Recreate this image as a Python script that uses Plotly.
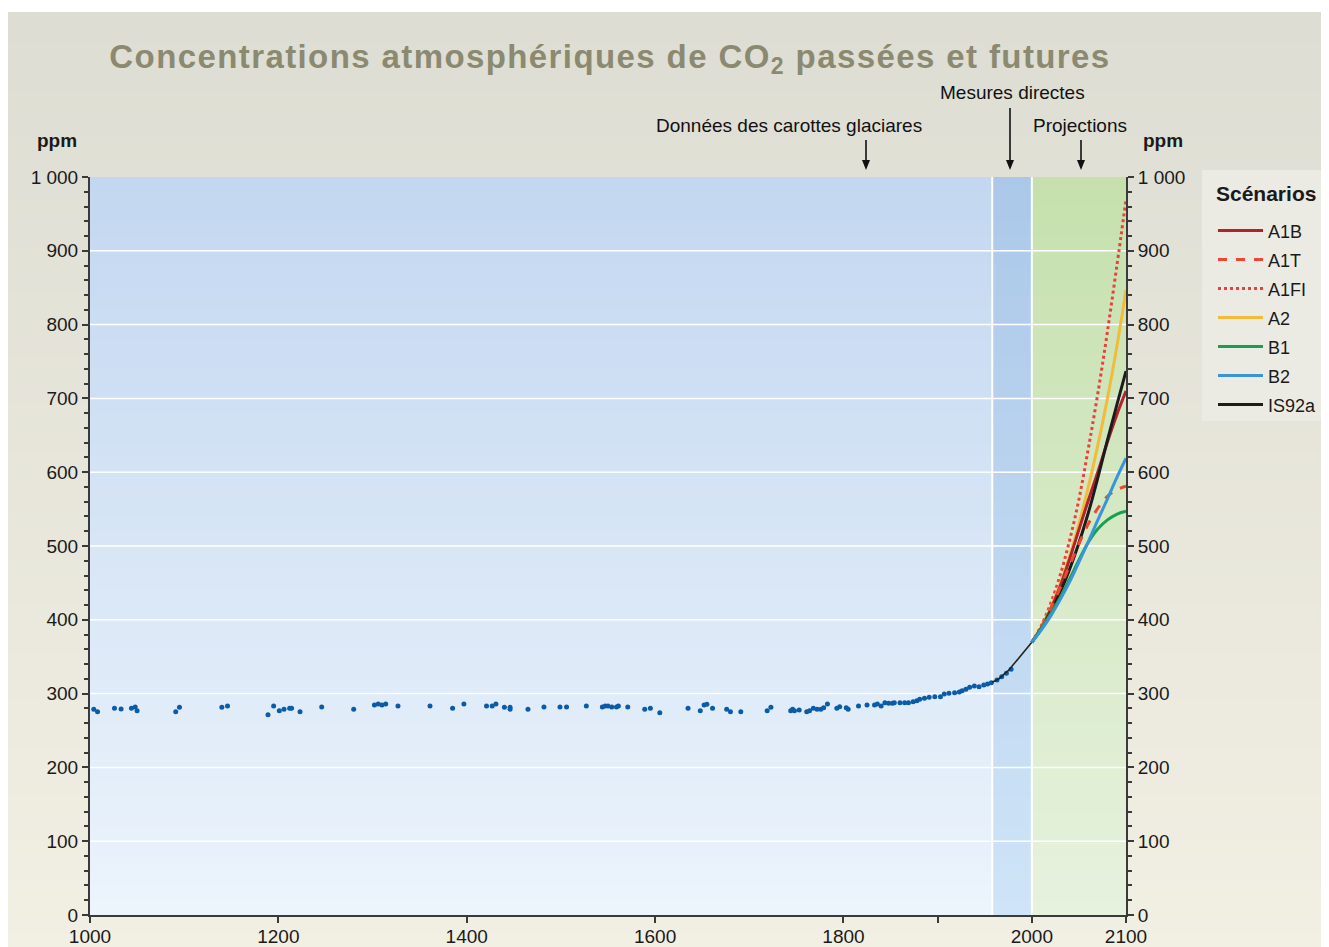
import plotly.graph_objects as go

# ---------------- data ----------------
ice_year = [1004, 1008, 1026, 1033, 1044, 1048, 1050, 1091, 1095, 1140, 1146, 1189, 1195, 1201,
            1206, 1212, 1214, 1223, 1246, 1280, 1302, 1306, 1310, 1314, 1327, 1361, 1385, 1397,
            1421, 1427, 1431, 1440, 1446, 1446, 1465, 1482, 1499, 1506, 1527, 1544, 1547, 1550,
            1554, 1559, 1561, 1571, 1589, 1595, 1605, 1635, 1648, 1652, 1655, 1661, 1676, 1680,
            1691, 1719, 1723, 1744, 1746, 1748, 1753, 1761, 1764, 1768, 1772, 1776, 1779, 1783,
            1793, 1796, 1803, 1805, 1816, 1825, 1833, 1836, 1840, 1844, 1848, 1852, 1854, 1860,
            1865, 1869, 1874, 1878, 1881, 1886, 1891, 1897, 1903, 1907, 1912, 1918, 1923, 1926,
            1930, 1934, 1939, 1944, 1949, 1953, 1957, 1963, 1968, 1973, 1978]
ice_ppm = [278.7, 275.5, 280.0, 279.1, 280.0, 281.8, 276.8, 275.5, 281.4, 281.4, 283.2, 271.4,
           283.2, 276.8, 278.7, 280.0, 280.0, 275.5, 281.8, 278.7, 284.6, 285.9, 284.6, 285.9,
           283.2, 283.2, 280.0, 285.9, 283.2, 283.2, 285.9, 281.4, 281.4, 278.7, 278.7, 281.8,
           281.8, 281.8, 283.2, 281.8, 283.2, 283.2, 281.8, 281.8, 283.2, 281.8, 278.7, 280.0,
           274.1, 280.0, 276.8, 284.6, 285.5, 280.0, 278.7, 275.5, 275.5, 276.8, 281.4, 276.8,
           278.7, 276.8, 277.8, 275.5, 276.8, 280.0, 278.7, 278.7, 280.9, 285.9, 280.0, 282.2,
           280.9, 278.7, 283.2, 284.6, 284.6, 285.9, 283.2, 287.7, 286.9, 286.9, 287.7, 287.7,
           287.7, 287.7, 289.0, 290.4, 292.3, 293.6, 295.0, 295.8, 295.8, 299.5, 300.4, 301.2,
           302.2, 303.9, 305.8, 308.5, 310.3, 309.3, 311.7, 313.0, 314.8, 318.4, 322.9, 327.5,
           332.9]

direct_year = [1958, 1960, 1965, 1970, 1975, 1980, 1985, 1990, 1995, 2000]
direct_ppm = [315.3, 316.9, 320.0, 325.7, 331.1, 338.7, 346.1, 354.4, 360.8, 369.5]

proj_year = [2000, 2010, 2020, 2030, 2040, 2050, 2060, 2070, 2080, 2090, 2100]
A1B = [369.5, 389, 414, 445, 482, 522, 562, 600, 640, 677, 710]
A1T = [369.5, 390, 415, 443, 473, 503, 530, 551, 567, 576, 581]
A1FI = [369.5, 392, 422, 460, 507, 563, 632, 706, 788, 877, 969]
A2 = [369.5, 390, 416, 448, 486, 530, 580, 636, 698, 768, 847]
B1 = [369.5, 388, 408, 430, 455, 481, 505, 523, 535, 543, 547]
B2 = [369.5, 386, 405, 427, 451, 478, 506, 535, 563, 592, 619]
IS92a = [369.5, 388, 410, 437, 468, 504, 545, 592, 642, 690, 737]

x_ticks = [1000, 1200, 1400, 1600, 1800, 2000, 2100]
x_labels = ["1000", "1200", "1400", "1600", "1800", "2000", "2100"]
x_extra_ticks = [1900]
y_ticks = [0, 100, 200, 300, 400, 500, 600, 700, 800, 900, 1000]
y_labels = ["0", "100", "200", "300", "400", "500", "600", "700", "800", "900", "1 000"]

period_bounds = [1000, 1958, 2000, 2100]

# ---------------- layout helpers ----------------
FONT = "Liberation Sans, Arial, Helvetica, sans-serif"
OFF = 8                       # page body margin
W, H = 1321, 939
L, T = 82, 169
PW, PH = 1036, 738
R, B = W - L - PW, H - T - PH


def px_x(p):                  # page pixel -> paper x
    return (p - OFF - L) / PW


def px_y(p):                  # page pixel -> paper y
    return (T + PH - (p - OFF)) / PH


def lerp(c1, c2, t):
    return "rgb(%d,%d,%d)" % tuple(round(a + (b - a) * t) for a, b in zip(c1, c2))


shapes = []

# paper background gradient
paper_top, paper_bot = (221, 221, 211), (242, 239, 227)
N = 60
y_top_px, y_bot_px = 12, 950
for i in range(N):
    a = y_top_px + (y_bot_px - y_top_px) * i / N
    b = y_top_px + (y_bot_px - y_top_px) * (i + 1) / N + 1
    shapes.append(dict(type="rect", xref="paper", yref="paper", layer="below",
                       x0=px_x(0), x1=px_x(1340), y0=px_y(b), y1=px_y(a),
                       fillcolor=lerp(paper_top, paper_bot, (i + 0.5) / N), line_width=0))

# legend background
shapes.append(dict(type="rect", xref="paper", yref="paper", layer="below",
                   x0=px_x(1202), x1=px_x(1340), y0=px_y(421), y1=px_y(170),
                   fillcolor="rgb(236,235,227)", line_width=0))

# plot area gradients (three periods)
region_cols = [((195, 215, 240), (236, 244, 252)),
               ((171, 200, 233), (207, 228, 247)),
               ((197, 224, 173), (231, 242, 222))]
M = 50
for (top, bot), x0, x1 in zip(region_cols, period_bounds[:-1], period_bounds[1:]):
    for i in range(M):
        y1 = 1000 - 1000 * i / M
        y0 = 1000 - 1000 * (i + 1) / M - 2
        shapes.append(dict(type="rect", xref="x", yref="y", layer="below",
                           x0=x0, x1=x1, y0=max(y0, 0), y1=y1,
                           fillcolor=lerp(top, bot, (i + 0.5) / M), line_width=0))

# horizontal grid lines
for v in y_ticks[1:-1]:
    shapes.append(dict(type="line", xref="x", yref="y", layer="below",
                       x0=1000, x1=2100, y0=v, y1=v, line=dict(color="white", width=1.5)))
# period separators
for v in period_bounds[1:-1]:
    shapes.append(dict(type="line", xref="x", yref="y", layer="below",
                       x0=v, x1=v, y0=0, y1=1000, line=dict(color="white", width=2)))

# pointer arrows (page pixel positions)
for ax_px, top_px in [(866, 140), (1010, 108), (1081, 140)]:
    tip = 170
    shapes.append(dict(type="line", xref="paper", yref="paper",
                       x0=px_x(ax_px), x1=px_x(ax_px), y0=px_y(top_px), y1=px_y(tip - 6),
                       line=dict(color="#111111", width=1.6)))
    shapes.append(dict(type="path", xref="paper", yref="paper",
                       path="M %f %f L %f %f L %f %f Z" % (
                           px_x(ax_px - 4), px_y(tip - 10), px_x(ax_px + 4), px_y(tip - 10),
                           px_x(ax_px), px_y(tip)),
                       fillcolor="#111111", line_width=0))

fig = go.Figure()

fig.add_trace(go.Scatter(x=ice_year, y=ice_ppm, mode="markers",
                         marker=dict(size=5, color="#0b5ca8"), showlegend=False,
                         hoverinfo="skip"))
fig.add_trace(go.Scatter(x=direct_year, y=direct_ppm, mode="lines",
                         line=dict(color="#222222", width=1.6), showlegend=False))

scen = [
    ("A1FI", A1FI, "#e8413a", "dot"),
    ("A2", A2, "#f2bc3a", "solid"),
    ("A1B", A1B, "#b3212d", "solid"),
    ("IS92a", IS92a, "#1c1c1c", "solid"),
    ("A1T", A1T, "#ee4632", "dash"),
    ("B1", B1, "#16a050", "solid"),
    ("B2", B2, "#3a95d8", "solid"),
]
legend_rank = {"A1B": 1, "A1T": 2, "A1FI": 3, "A2": 4, "B1": 5, "B2": 6, "IS92a": 7}
for name, vals, col, dash in scen:
    fig.add_trace(go.Scatter(x=proj_year, y=vals, mode="lines", line_shape="spline",
                             name="<span style='font-size:18px'>%s</span>" % name,
                             legendrank=legend_rank[name],
                             line=dict(color=col, width=3, dash=dash)))

# invisible trace for right axis
fig.add_trace(go.Scatter(x=[2100], y=[0], yaxis="y2", mode="markers",
                         marker=dict(opacity=0), showlegend=False, hoverinfo="skip"))

annotations = [
    dict(text="<b>ppm</b>", xref="paper", yref="paper", x=px_x(57), y=px_y(141),
         xanchor="center", yanchor="middle", showarrow=False,
         font=dict(size=19, color="#1a1a1a")),
    dict(text="<b>ppm</b>", xref="paper", yref="paper", x=px_x(1163), y=px_y(141),
         xanchor="center", yanchor="middle", showarrow=False,
         font=dict(size=19, color="#1a1a1a")),
    dict(text="Données des carottes glaciares", xref="paper", yref="paper",
         x=px_x(789), y=px_y(125), xanchor="center", yanchor="middle",
         showarrow=False, font=dict(size=19, color="#111111")),
    dict(text="Mesures directes", xref="paper", yref="paper", x=px_x(1012), y=px_y(92),
         xanchor="center", yanchor="middle", showarrow=False,
         font=dict(size=19, color="#111111")),
    dict(text="Projections", xref="paper", yref="paper", x=px_x(1080), y=px_y(125),
         xanchor="center", yanchor="middle", showarrow=False,
         font=dict(size=19, color="#111111")),
    dict(text="<b>Scénarios</b>", xref="paper", yref="paper", x=px_x(1266), y=px_y(194),
         xanchor="center", yanchor="middle", showarrow=False,
         font=dict(size=21, color="#1a1a1a")),
]

axis_common = dict(showline=True, linecolor="#3a3a3a", linewidth=2, ticks="outside",
                   tickcolor="#3a3a3a", tickwidth=2, ticklen=6, showgrid=False,
                   zeroline=False, automargin=False,
                   tickfont=dict(size=19, color="#1a1a1a", family=FONT))
minor_ticks = dict(dtick=20, ticklen=4, tickcolor="#3a3a3a", tickwidth=1.5, ticks="outside")

fig.update_layout(
    width=W, height=H,
    margin=dict(l=L, r=R, t=T, b=B, pad=0, autoexpand=False),
    paper_bgcolor="white", plot_bgcolor="rgba(0,0,0,0)",
    font=dict(family=FONT, color="#1a1a1a"),
    title=dict(text="<b><span style='letter-spacing:1.4px'>Concentrations atmosphériques de "
                    "CO<sub>2</sub> passées et futures</span></b>",
               x=(610 - OFF) / W, xanchor="center", y=1 - (56 - OFF) / H, yanchor="middle",
               xref="container", yref="container",
               font=dict(size=33, color="rgb(139,138,112)", family=FONT)),
    xaxis=dict(range=[1000, 2100], tickvals=x_ticks, ticktext=x_labels,
               ticklabelstandoff=-3,
               minor=dict(tickvals=x_extra_ticks, ticklen=6, tickwidth=2,
                          tickcolor="#3a3a3a", ticks="outside"),
               **axis_common),
    yaxis=dict(range=[0, 1000], tickvals=y_ticks, ticktext=y_labels, minor=minor_ticks,
               **axis_common),
    yaxis2=dict(range=[0, 1000], tickvals=y_ticks, ticktext=y_labels, overlaying="y",
                side="right", minor=minor_ticks, **axis_common),
    legend=dict(x=(1205 - L) / PW, y=(T + PH - 203) / PH, xanchor="left", yanchor="top",
                bgcolor="rgba(0,0,0,0)", font=dict(size=20, family=FONT, color="#1a1a1a"),
                itemwidth=45, tracegroupgap=0),
    shapes=shapes,
    annotations=annotations,
    showlegend=True,
)

fig.write_html("out.html")
